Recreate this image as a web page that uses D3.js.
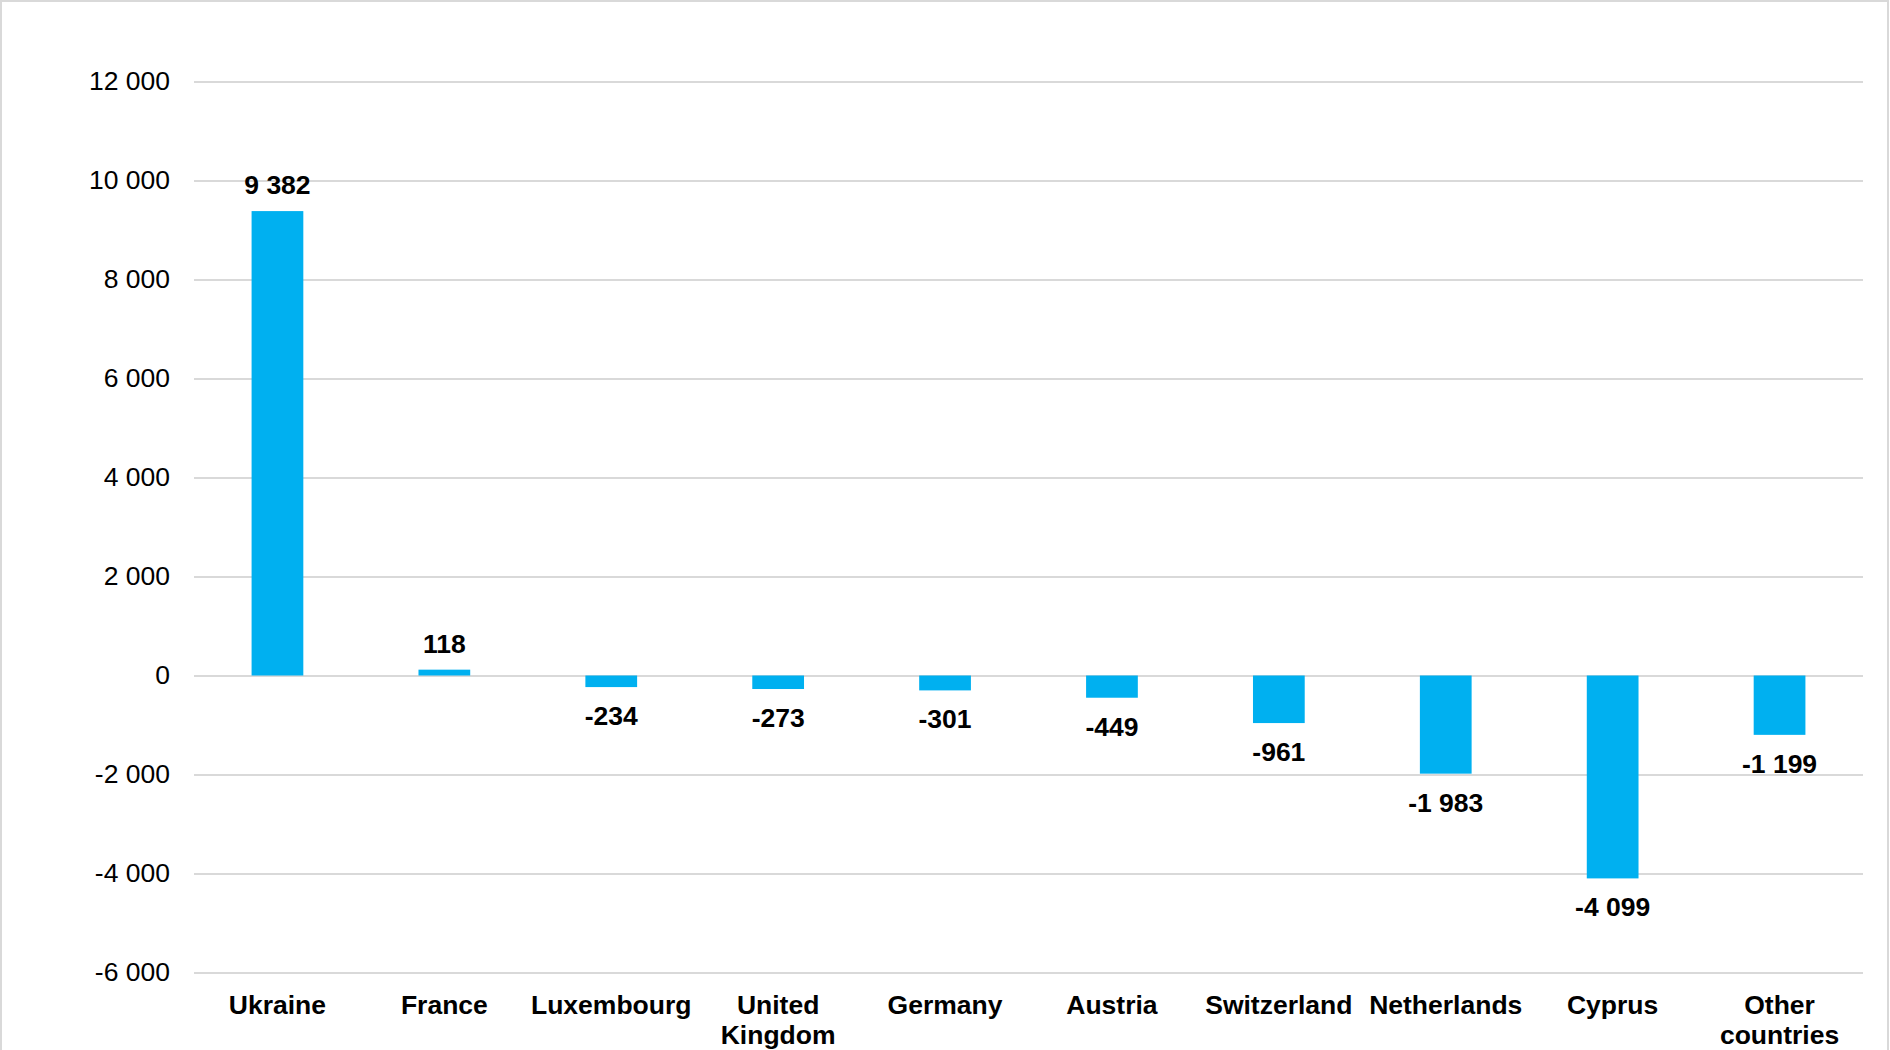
<!DOCTYPE html>
<html>
<head>
<meta charset="utf-8">
<script src="https://cdn.jsdelivr.net/npm/d3@7"></script>
<style>
  body { margin: 0; background: #fff; }
  svg { display: block; font-family: "Liberation Sans", Arial, sans-serif; }
</style>
</head>
<body>
<script>
// data
const countries = ["Ukraine", "France", "Luxembourg", "United Kingdom", "Germany",
  "Austria", "Switzerland", "Netherlands", "Cyprus", "Other countries"];
const values = [9382, 118, -234, -273, -301, -449, -961, -1983, -4099, -1199];
const yTicks = [-6000, -4000, -2000, 0, 2000, 4000, 6000, 8000, 10000, 12000];

const width = 1890, height = 1050;
const plotLeft = 194, plotRight = 1863, plotTop = 81.5, plotBottom = 972.5;
const fontSize = "26.5px";

const svg = d3.select("body").append("svg")
  .attr("width", width)
  .attr("height", height);

// frame
svg.append("rect")
  .attr("x", 1).attr("y", 1)
  .attr("width", 1887).attr("height", 1060)
  .attr("fill", "none")
  .attr("stroke", "#d9d9d9")
  .attr("stroke-width", 2);

let fmt = (v) => {
  let s = d3.format(",")(Math.abs(v)).replace(/,/g, " ");
  return (v < 0 ? "-" : "") + s;
};

let x = d3.scaleBand()
  .domain(countries)
  .range([plotLeft, plotRight])
  .paddingInner(0.69)
  .paddingOuter(0.345);
let y = d3.scaleLinear()
  .domain([-6000, 12000])
  .range([plotBottom, plotTop]);

// gridlines + y labels
let yAxis = d3.axisLeft(y)
  .tickValues(yTicks)
  .tickSize(-(plotRight - plotLeft))
  .tickPadding(24)
  .tickFormat(fmt);
let gY = svg.append("g")
  .attr("transform", `translate(${plotLeft}, 0)`)
  .call(yAxis);
gY.select(".domain").remove();
gY.selectAll(".tick line")
  .attr("stroke", "#d9d9d9")
  .attr("stroke-width", 2);
gY.selectAll(".tick text")
  .attr("fill", "#000")
  .style("font-size", fontSize)
  .style("font-family", "Liberation Sans, Arial, sans-serif");

// bars
svg.selectAll("rect.bar").data(values)
  .enter().append("rect")
  .classed("bar", true)
  .attr("x", (d, i) => x(countries[i]))
  .attr("width", x.bandwidth())
  .attr("y", (d) => y(Math.max(0, d)))
  .attr("height", (d) => Math.abs(y(d) - y(0)))
  .attr("fill", "#00b0f0");

// value labels
svg.selectAll("text.val").data(values)
  .enter().append("text")
  .classed("val", true)
  .attr("x", (d, i) => x(countries[i]) + x.bandwidth() / 2)
  .attr("y", (d) => d >= 0 ? y(d) - 17 : y(d) + 38)
  .attr("text-anchor", "middle")
  .style("font-size", fontSize)
  .style("font-weight", "bold")
  .text((d) => fmt(d));

// category labels
let cat = svg.selectAll("text.cat").data(countries)
  .enter().append("text")
  .classed("cat", true)
  .attr("x", (d) => x(d) + x.bandwidth() / 2)
  .attr("y", 1014)
  .attr("text-anchor", "middle")
  .style("font-size", fontSize)
  .style("font-weight", "bold");
cat.each(function(d) {
  let words = d.split(" ");
  let el = d3.select(this);
  let lines = d.length > 12 ? words : [d];
  lines.forEach((w, i) => {
    el.append("tspan")
      .attr("x", el.attr("x"))
      .attr("dy", i === 0 ? 0 : 30)
      .text(w);
  });
});
</script>
</body>
</html>
